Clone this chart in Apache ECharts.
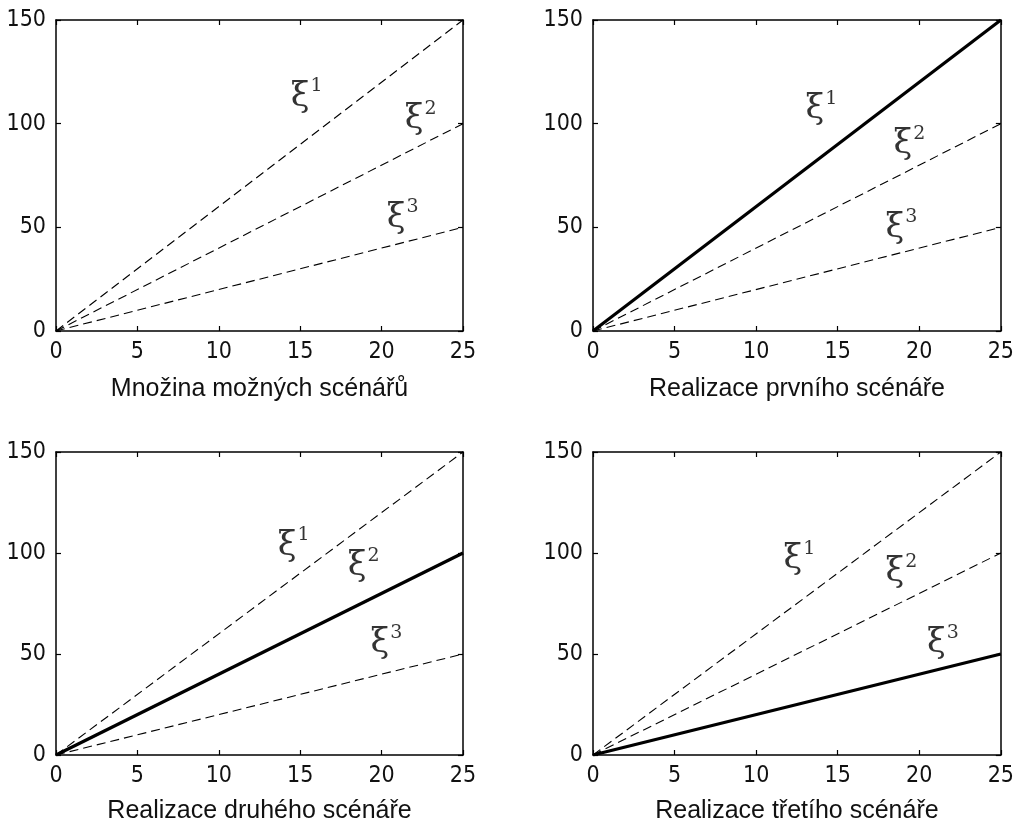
<!DOCTYPE html>
<html>
<head>
<meta charset="utf-8">
<script src="https://cdn.jsdelivr.net/npm/echarts@6/dist/echarts.min.js"></script>
<style>
html,body{margin:0;padding:0;background:#fff;}
#c{width:1017px;height:825px;}
</style>
</head>
<body>
<div id="c"></div>
<script>
// ---- data ----
const xValues = [0, 25];
const xi1 = [0, 150];
const xi2 = [0, 100];
const xi3 = [0, 50];
const xTicks = [0, 5, 10, 15, 20, 25];
const yTicks = [0, 50, 100, 150];
const panelTitles = [
  'Množina možných scénářů',
  'Realizace prvního scénáře',
  'Realizace druhého scénáře',
  'Realizace třetího scénáře'
];
// which scenario is realized (bold) in each panel: 0 = none
const realized = [0, 1, 2, 3];
// label anchor points (data coords) for ξ labels per panel
const labelPts = [
  [[15.4, 113], [22.4, 102], [21.3, 54.5]],
  [[14.0, 107], [19.4, 90], [18.9, 49.7]],
  [[14.6, 103.5], [18.9, 93.4], [20.3, 55.2]],
  [[12.65, 96.8], [18.9, 90.5], [21.45, 55.2]]
];

// ---- layout ----
const grids = [
  {left: 56, top: 20, width: 407, height: 311},
  {left: 593, top: 20, width: 409, height: 311},
  {left: 56, top: 452, width: 407, height: 310},
  {left: 593, top: 452, width: 409, height: 310}
];
const tickFont = {fontFamily: '"Liberation Sans Narrow", "DejaVu Sans Condensed", "Liberation Sans", sans-serif', fontSize: 23, color: '#111'};
const series_data = [xi1, xi2, xi3];

const option = {
  animation: false,
  backgroundColor: '#fff',
  grid: grids.map(g => Object.assign({show: false, containLabel: false}, g)),
  xAxis: [],
  yAxis: [],
  series: []
};

grids.forEach((g, i) => {
  const axisLine = {show: true, onZero: false, lineStyle: {color: '#000', width: 1.5}};
  const axisTick = {show: true, inside: true, length: 5, lineStyle: {color: '#000', width: 1.2}};
  option.xAxis.push({
    type: 'value', gridIndex: i, min: xTicks[0], max: xTicks[xTicks.length - 1], interval: 5,
    position: 'bottom',
    axisLine, axisTick, splitLine: {show: false},
    axisLabel: Object.assign({margin: 10}, tickFont),
    name: panelTitles[i], nameLocation: 'middle', nameGap: i < 2 ? 46 : 44,
    nameTextStyle: {fontFamily: '"Liberation Sans", Arial, sans-serif', fontSize: 25, color: '#111'}
  });
  option.xAxis.push({
    type: 'value', gridIndex: i, min: xTicks[0], max: xTicks[xTicks.length - 1], interval: 5,
    position: 'top',
    axisLine, axisTick, splitLine: {show: false}, axisLabel: {show: false}
  });
  option.yAxis.push({
    type: 'value', gridIndex: i, min: yTicks[0], max: yTicks[yTicks.length - 1], interval: 50,
    position: 'left',
    axisLine, axisTick, splitLine: {show: false},
    axisLabel: Object.assign({margin: 10}, tickFont)
  });
  option.yAxis.push({
    type: 'value', gridIndex: i, min: yTicks[0], max: yTicks[yTicks.length - 1], interval: 50,
    position: 'right',
    axisLine, axisTick, splitLine: {show: false}, axisLabel: {show: false}
  });

  series_data.forEach((ys, k) => {
    const bold = realized[i] === k + 1;
    option.series.push({
      type: 'line', xAxisIndex: 2 * i, yAxisIndex: 2 * i,
      data: xValues.map((x, j) => [x, ys[j]]),
      showSymbol: false, symbol: 'none', silent: true,
      lineStyle: bold ? {color: '#000', width: 3.2, type: 'solid'}
                      : {color: '#000', width: 1.1, type: [9, 5]},
      z: bold ? 5 : 3
    });
    option.series.push({
      type: 'scatter', xAxisIndex: 2 * i, yAxisIndex: 2 * i,
      data: [labelPts[i][k]], symbolSize: 0, silent: true,
      label: {
        show: true, position: 'inside',
        formatter: '{x|ξ}{s|' + (k + 1) + '}',
        rich: {
          x: {fontFamily: '"DejaVu Serif", "Liberation Serif", serif', fontSize: 34, color: '#000', lineHeight: 40},
          s: {fontFamily: '"DejaVu Serif", "Liberation Serif", serif', fontSize: 19, color: '#000', verticalAlign: 'top', padding: [0, 0, 0, 1], lineHeight: 20}
        }
      }
    });
  });
});

const chart = echarts.init(document.getElementById('c'), null, {renderer: 'canvas'});
chart.setOption(option);
</script>
</body>
</html>
